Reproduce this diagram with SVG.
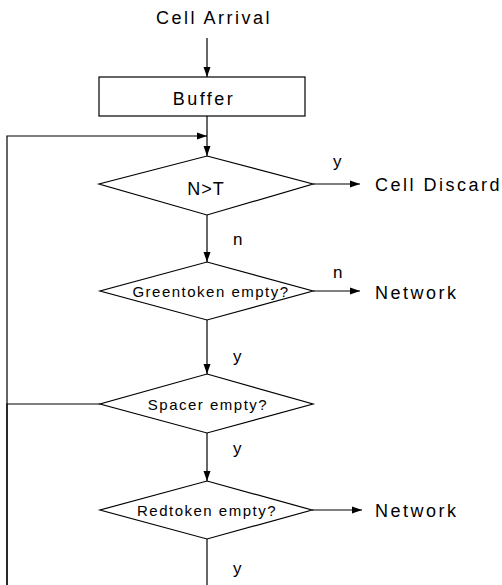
<svg xmlns="http://www.w3.org/2000/svg" width="502" height="585" viewBox="0 0 502 585">
<defs>
<marker id="ah" markerWidth="10" markerHeight="8" refX="10" refY="4" orient="auto" markerUnits="userSpaceOnUse">
<path d="M0,0.5 L10,4 L0,7.5 Z" fill="#000"/>
</marker>
<style>
.s{fill:#fff;stroke:#000;stroke-width:1.2}
.c{fill:none;stroke:#000;stroke-width:1.2}
.t{font-family:"Liberation Sans",Arial,sans-serif;fill:#000}
.big{font-size:18px;letter-spacing:2.5px}
.mid{font-size:15px;letter-spacing:1.5px}
.lab{font-size:17px}
</style>
</defs>
<rect width="502" height="585" fill="#fff"/>
<g id="connectors">
<line class="c" x1="207" y1="38" x2="207" y2="77" marker-end="url(#ah)"/>
<line class="c" x1="207" y1="116" x2="207" y2="156" marker-end="url(#ah)"/>
<polyline class="c" points="100,404 7,404 7,585"/>
<polyline class="c" points="7,585 7,136 207,136" marker-end="url(#ah)"/>
<line class="c" x1="313" y1="184" x2="360" y2="184" marker-end="url(#ah)"/>
<line class="c" x1="207" y1="215" x2="207" y2="262" marker-end="url(#ah)"/>
<line class="c" x1="313" y1="291" x2="360" y2="291" marker-end="url(#ah)"/>
<line class="c" x1="207" y1="320" x2="207" y2="374" marker-end="url(#ah)"/>
<line class="c" x1="207" y1="433" x2="207" y2="481" marker-end="url(#ah)"/>
<line class="c" x1="312" y1="510" x2="362" y2="510" marker-end="url(#ah)"/>
<line class="c" x1="207" y1="539" x2="207" y2="585"/>
<text class="t lab" x="333" y="167">y</text>
<text class="t lab" x="233" y="245">n</text>
<text class="t lab" x="333" y="278">n</text>
<text class="t lab" x="233" y="362">y</text>
<text class="t lab" x="233" y="454">y</text>
<text class="t lab" x="233" y="574">y</text>
</g>
<g id="cell-arrival"><text class="t big" x="214" y="24" text-anchor="middle">Cell Arrival</text></g>
<g id="buffer"><rect class="s" x="99" y="77" width="206" height="39"/><text class="t big" x="204" y="105" text-anchor="middle">Buffer</text></g>
<g id="nt"><polygon class="s" points="207,156 313,184 207,215 99,184"/><text class="t big" x="206" y="195" text-anchor="middle" style="letter-spacing:1px">N&gt;T</text></g>
<g id="cell-discard"><text class="t big" x="375" y="191">Cell Discard</text></g>
<g id="greentoken"><polygon class="s" points="207,262 313,291 207,320 100,291"/><text class="t mid" x="211" y="297" text-anchor="middle">Greentoken empty?</text></g>
<g id="network1"><text class="t big" x="375" y="299">Network</text></g>
<g id="spacer"><polygon class="s" points="207,374 313,404 207,433 100,404"/><text class="t mid" x="208" y="410" text-anchor="middle">Spacer empty?</text></g>
<g id="redtoken"><polygon class="s" points="207,481 312,510 207,539 100,510"/><text class="t mid" x="207" y="516" text-anchor="middle">Redtoken empty?</text></g>
<g id="network2"><text class="t big" x="375" y="517">Network</text></g>
</svg>
